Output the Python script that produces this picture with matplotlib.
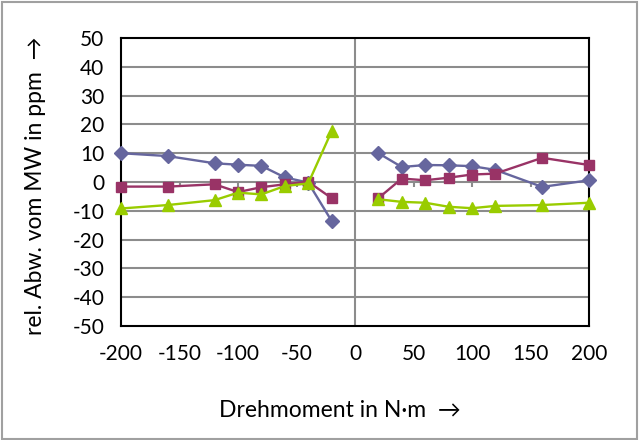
import matplotlib.pyplot as plt
import numpy as np

plt.rcParams['font.family'] = ['Lato', 'DejaVu Sans']
plt.rcParams['font.size'] = 15
plt.rcParams['axes.unicode_minus'] = False

# Torque steps (N·m), split in the negative and positive branch
torque_neg = [-200, -160, -120, -100, -80, -60, -40, -20]
torque_pos = [20, 40, 60, 80, 100, 120, 160, 200]

# Relative deviation from mean value (ppm)
dev_a_neg = [10, 9, 6.5, 6, 5.6, 1.6, -0.2, -13.5]
dev_a_pos = [10, 5.2, 5.9, 5.8, 5.5, 4.2, -1.7, 0.6]
dev_b_neg = [-1.6, -1.6, -0.8, -3.5, -1.8, -0.8, 0.1, -5.6]
dev_b_pos = [-5.6, 1.2, 0.6, 1.5, 2.6, 2.9, 8.4, 5.9]
dev_c_neg = [-9.2, -8.0, -6.3, -3.7, -4.3, -1.4, -0.5, 17.6]
dev_c_pos = [-6.0, -6.9, -7.2, -8.6, -9.1, -8.3, -8.0, -7.2]

xticks = [-200, -150, -100, -50, 0, 50, 100, 150, 200]
yticks = list(range(-50, 51, 10))

GRID = '#8c8c8c'

fig = plt.figure(figsize=(6.44, 4.40), dpi=100)
ax = fig.add_axes([121/644, 1 - 326/440, 468/644, 288/440])

ax.set_xlim(-200, 200)
ax.set_ylim(-50, 50)

# horizontal grid and the two zero axes
for y in yticks[1:-1]:
    ax.axhline(y, color=GRID, lw=1.5, zorder=1)
ax.axvline(0, color=GRID, lw=1.5, zorder=1)
ax.vlines([t for t in xticks if t not in (-200, 0, 200)], 0, -1.8,
          color=GRID, lw=1.5, zorder=1)

styles = [
    (dev_a_neg, dev_a_pos, '#66669e', 'D', 7),
    (dev_b_neg, dev_b_pos, '#993366', 's', 7),
    (dev_c_neg, dev_c_pos, '#99cc00', '^', 9),
]
for yn, yp, c, m, ms in styles:
    for xs, ys in ((torque_neg, yn), (torque_pos, yp)):
        ax.plot(xs, ys, color=c, lw=1.7, marker=m, ms=ms,
                markeredgecolor=c, clip_on=False, zorder=3)

ax.set_xticks(xticks)
ax.set_yticks(yticks)
ax.tick_params(length=0)
ax.tick_params(axis='x', pad=13)
ax.tick_params(axis='y', pad=12)
for s in ax.spines.values():
    s.set_color('black')
    s.set_linewidth(1.5)

fig.text(340/644, 1 - 410/440, 'Drehmoment in N·m  →', ha='center',
         va='center', fontsize=16.5)
fig.text(36/644, 1 - 186/440, 'rel. Abw. vom MW in ppm  →', ha='center',
         va='center', rotation=90, fontsize=16.5)

# outer chart border
fig.patches.append(plt.Rectangle((2/644, 1/440), 635/644, 437/440,
                                 transform=fig.transFigure, fill=False,
                                 edgecolor='#a0a0a0', lw=1.5))

fig.savefig('out.png', dpi=100)
